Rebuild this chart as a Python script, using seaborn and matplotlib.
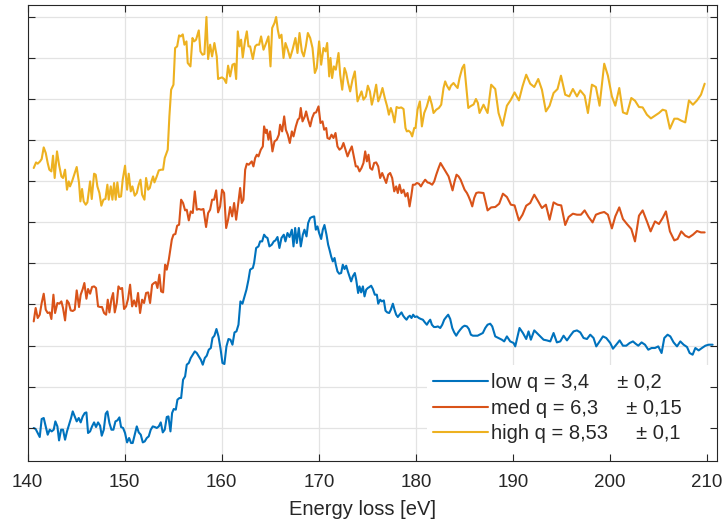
import matplotlib
matplotlib.use("Agg")
import matplotlib.pyplot as plt
from matplotlib.patches import Rectangle
import numpy as np
import pandas as pd
import seaborn as sns

# ---------------------------------------------------------------------------
# EELS spectra (arbitrary intensity units, curves vertically offset)
# ---------------------------------------------------------------------------
energy_low = [
    140.62, 140.82, 141.03, 141.24, 141.44, 141.65, 141.86, 142.06, 142.27, 142.47,
    142.68, 142.85, 143.06, 143.23, 143.44, 143.64, 143.85, 144.05, 144.26, 144.47,
    144.64, 144.85, 145.05, 145.26, 145.46, 145.67, 145.88, 146.05, 146.22, 146.43,
    146.63, 146.84, 147.04, 147.25, 147.46, 147.63, 147.84, 148.04, 148.21, 148.42,
    148.63, 148.83, 149.04, 149.24, 149.45, 149.62, 149.83, 150.03, 150.24, 150.45,
    150.65, 150.82, 151.03, 151.24, 151.44, 151.65, 151.86, 152.06, 152.27, 152.47,
    152.68, 152.89, 153.09, 153.30, 153.51, 153.71, 153.92, 154.12, 154.33, 154.50,
    154.71, 154.88, 155.05, 155.26, 155.43, 155.64, 155.81, 156.01, 156.22, 156.39,
    156.60, 156.80, 157.01, 157.22, 157.42, 157.63, 157.84, 158.04, 158.25, 158.45,
    158.66, 158.87, 159.04, 159.24, 159.45, 159.66, 159.86, 160.07, 160.27, 160.48,
    160.69, 160.89, 161.10, 161.31, 161.51, 161.72, 161.92, 162.13, 162.34, 162.54,
    162.75, 162.92, 163.02, 163.20, 163.33, 163.47, 163.54, 163.78, 163.95, 164.16,
    164.36, 164.54, 164.71, 164.91, 165.15, 165.36, 165.53, 165.74, 165.94, 166.15,
    166.39, 166.56, 166.77, 166.98, 167.22, 167.39, 167.56, 167.73, 167.94, 168.14,
    168.35, 168.52, 168.73, 168.90, 169.11, 169.31, 169.52, 169.69, 169.86, 170.03,
    170.24, 170.41, 170.58, 170.79, 170.96, 171.10, 171.27, 171.44, 171.62, 171.75,
    171.92, 172.10, 172.30, 172.47, 172.65, 172.82, 172.99, 173.16, 173.33, 173.50,
    173.71, 173.85, 174.05, 174.19, 174.36, 174.54, 174.71, 174.88, 175.05, 175.22,
    175.39, 175.57, 175.77, 175.98, 176.12, 176.32, 176.49, 176.70, 176.87, 177.05,
    177.25, 177.42, 177.63, 177.80, 177.97, 178.14, 178.32, 178.52, 178.69, 178.87,
    179.04, 179.21, 179.38, 179.55, 179.72, 179.90, 180.10, 180.31, 180.52, 180.72,
    180.93, 181.13, 181.34, 181.48, 181.65, 181.86, 182.06, 182.27, 182.51, 182.72,
    182.92, 183.13, 183.33, 183.54, 183.75, 183.95, 184.16, 184.36, 184.57, 184.81,
    185.02, 185.26, 185.46, 185.67, 185.88, 186.12, 186.36, 186.90, 187.15, 187.39,
    187.66, 187.87, 188.18, 188.52, 188.86, 189.10, 189.38, 189.72, 190.07, 190.24,
    190.68, 191.03, 191.37, 191.61, 191.85, 192.20, 192.47, 192.82, 193.16, 193.50,
    193.85, 194.19, 194.53, 194.88, 195.22, 195.57, 195.91, 196.25, 196.60, 196.94,
    197.28, 197.63, 197.97, 198.31, 198.59, 198.93, 199.28, 199.62, 200.03, 200.31,
    200.65, 201.00, 201.34, 201.68, 202.03, 202.37, 202.64, 202.92, 203.26, 203.61,
    203.95, 204.29, 204.64, 204.98, 205.32, 205.60, 205.94, 206.22, 206.56, 206.91,
    207.25, 207.59, 207.94, 208.21, 208.52, 208.80, 209.14, 209.48, 209.83, 210.17,
    210.58,
]
intensity_low = [
    32.7, 31.7, 27.7, 23.7, 41.7, 42.7, 34.3, 26.0, 31.0, 29.3,
    31.0, 39.3, 34.3, 20.3, 31.0, 31.0, 21.0, 29.3, 36.0, 42.7,
    49.3, 44.3, 39.3, 42.7, 38.3, 44.3, 47.7, 48.3, 27.7, 29.3,
    34.3, 38.3, 33.7, 38.3, 35.0, 25.0, 31.0, 47.0, 49.3, 37.7,
    31.0, 31.0, 39.3, 40.3, 43.3, 33.7, 32.7, 27.7, 18.3, 22.7,
    17.7, 17.7, 26.0, 34.3, 28.3, 26.0, 18.3, 19.3, 22.7, 24.3,
    31.0, 34.3, 33.7, 32.7, 34.3, 38.3, 28.3, 31.0, 43.7, 44.3,
    29.3, 47.7, 51.7, 51.0, 61.0, 62.7, 62.7, 81.0, 84.3, 96.0,
    97.7, 102.7, 106.0, 109.3, 107.7, 104.3, 101.0, 96.0, 102.7, 105.0,
    111.0, 112.7, 122.7, 125.0, 131.7, 124.3, 112.7, 97.7, 96.7, 114.3,
    121.7, 121.0, 116.0, 128.3, 129.3, 136.0, 159.3, 157.0, 164.3, 171.0,
    181.0, 191.0, 191.7, 192.7, 197.7, 207.7, 212.7, 214.3, 219.3, 219.3,
    226.0, 223.7, 222.7, 214.3, 216.0, 219.3, 220.3, 223.7, 212.7, 222.7,
    226.0, 219.3, 227.7, 223.7, 231.0, 214.3, 232.7, 217.7, 232.7, 214.3,
    226.0, 231.0, 224.3, 237.7, 242.7, 243.7, 244.3, 231.0, 234.3, 227.7,
    221.7, 231.0, 235.7, 226.0, 216.0, 211.0, 204.3, 199.3, 202.7, 196.0,
    189.3, 187.0, 187.7, 196.0, 191.7, 195.0, 189.3, 184.3, 179.3, 184.3,
    187.7, 181.0, 167.7, 174.3, 168.3, 174.3, 164.3, 171.0, 172.7, 173.7,
    175.0, 171.7, 166.0, 166.0, 157.0, 161.0, 159.3, 160.3, 150.0, 148.3,
    147.7, 151.0, 157.0, 151.0, 146.0, 143.7, 146.0, 148.3, 145.0, 142.7,
    141.0, 143.7, 145.0, 142.7, 146.0, 143.7, 144.3, 142.7, 141.7, 141.0,
    138.3, 136.0, 139.3, 141.0, 136.0, 133.7, 133.7, 134.3, 132.7, 136.0,
    141.0, 143.7, 146.0, 141.7, 132.7, 128.3, 125.0, 128.3, 131.0, 133.7,
    135.0, 134.3, 131.7, 126.0, 125.0, 125.0, 125.0, 127.7, 132.7, 136.0,
    137.0, 134.3, 124.3, 122.7, 121.0, 119.3, 124.3, 119.3, 117.7, 114.3,
    132.7, 127.7, 121.7, 129.3, 121.0, 130.3, 127.7, 124.3, 121.0, 120.3,
    119.3, 127.7, 118.3, 119.3, 125.0, 120.3, 125.0, 129.3, 130.3, 128.3,
    122.7, 121.7, 126.0, 122.7, 114.3, 119.3, 124.3, 122.7, 117.7, 112.0,
    116.0, 120.3, 115.0, 115.0, 117.7, 119.3, 117.0, 115.0, 118.3, 116.0,
    111.0, 112.7, 112.7, 114.3, 107.7, 122.7, 126.0, 124.3, 118.3, 114.3,
    119.3, 116.0, 113.7, 107.7, 106.0, 112.7, 110.3, 112.7, 115.0, 116.0,
    116.0,
]

energy_med = [
    140.62, 140.82, 141.03, 141.24, 141.44, 141.65, 141.86, 142.06, 142.27, 142.44,
    142.65, 142.82, 143.06, 143.26, 143.47, 143.64, 143.85, 144.05, 144.23, 144.43,
    144.64, 144.85, 145.05, 145.29, 145.46, 145.67, 145.84, 146.05, 146.22, 146.43,
    146.63, 146.84, 147.04, 147.25, 147.46, 147.66, 147.87, 148.08, 148.25, 148.42,
    148.63, 148.80, 148.97, 149.18, 149.35, 149.55, 149.73, 149.93, 150.14, 150.34,
    150.55, 150.76, 150.96, 151.17, 151.37, 151.58, 151.79, 151.99, 152.20, 152.41,
    152.61, 152.82, 153.02, 153.20, 153.37, 153.57, 153.75, 153.95, 154.16, 154.33,
    154.54, 154.85, 155.02, 155.22, 155.40, 155.60, 155.81, 156.01, 156.22, 156.39,
    156.60, 156.80, 157.01, 157.22, 157.42, 157.63, 157.87, 158.11, 158.38, 158.59,
    158.80, 159.00, 159.21, 159.42, 159.62, 159.83, 160.03, 160.24, 160.45, 160.65,
    160.86, 161.07, 161.27, 161.48, 161.68, 161.89, 162.06, 162.23, 162.41, 162.58,
    162.78, 163.09, 163.26, 163.44, 163.61, 163.78, 164.02, 164.23, 164.36, 164.54,
    164.64, 164.81, 164.98, 165.22, 165.43, 165.67, 165.88, 166.01, 166.22, 166.43,
    166.60, 166.80, 167.01, 167.22, 167.39, 167.63, 167.84, 168.01, 168.14, 168.32,
    168.56, 168.69, 168.90, 169.11, 169.31, 169.52, 169.72, 169.97, 170.17, 170.38,
    170.55, 170.76, 170.89, 171.10, 171.31, 171.51, 171.72, 171.92, 172.13, 172.34,
    172.54, 172.75, 172.96, 173.16, 173.40, 173.61, 173.81, 173.99, 174.19, 174.40,
    174.60, 174.78, 174.95, 175.12, 175.29, 175.50, 175.70, 175.91, 176.12, 176.32,
    176.53, 176.74, 176.94, 177.15, 177.35, 177.56, 177.77, 177.97, 178.14, 178.32,
    178.52, 178.73, 178.93, 179.14, 179.35, 179.52, 179.69, 179.90, 180.10, 180.31,
    180.52, 180.72, 180.96, 181.20, 181.41, 181.68, 181.89, 182.10, 182.34, 182.54,
    182.75, 182.96, 183.16, 183.37, 183.57, 183.78, 183.99, 184.19, 184.40, 184.61,
    184.81, 185.02, 185.26, 185.43, 185.64, 185.81, 186.01, 186.22, 186.46, 186.97,
    187.39, 187.76, 188.18, 188.59, 188.97, 189.38, 189.79, 190.17, 190.62, 190.99,
    191.37, 191.78, 192.20, 192.61, 192.99, 193.40, 193.78, 194.19, 194.60, 194.98,
    195.39, 195.74, 196.18, 196.60, 197.01, 197.39, 197.80, 198.21, 198.55, 199.00,
    199.41, 199.79, 200.20, 200.55, 200.96, 201.34, 201.75, 202.20, 202.58, 202.99,
    203.37, 203.81, 204.19, 204.64, 205.05, 205.43, 205.77, 206.18, 206.63, 206.97,
    207.35, 207.76, 208.14, 208.55, 208.97, 209.38, 209.76,
]
intensity_med = [
    139.3, 152.7, 142.7, 146.0, 157.7, 167.0, 151.0, 147.7, 148.3, 141.7,
    166.0, 147.7, 157.7, 157.0, 159.3, 152.7, 140.3, 160.3, 157.7, 150.3,
    149.7, 151.0, 170.3, 153.7, 166.0, 171.7, 177.7, 162.0, 171.7, 167.0,
    173.7, 174.3, 172.7, 154.3, 153.7, 153.7, 147.7, 146.0, 161.0, 148.3,
    161.7, 167.7, 148.3, 157.7, 174.3, 171.7, 172.7, 151.7, 154.3, 161.7,
    176.0, 154.3, 160.3, 154.3, 167.7, 147.7, 161.0, 157.7, 167.7, 168.3,
    157.7, 176.0, 177.7, 178.7, 172.7, 186.0, 169.3, 168.3, 196.0, 191.0,
    201.0, 221.0, 226.0, 226.7, 235.0, 236.0, 261.0, 257.7, 250.3, 251.0,
    240.3, 249.3, 247.7, 269.3, 251.0, 251.7, 251.0, 251.7, 233.7, 247.7,
    251.0, 261.0, 261.0, 270.3, 248.3, 254.3, 271.0, 267.7, 232.7, 241.0,
    253.7, 244.3, 257.7, 241.0, 256.0, 272.7, 257.7, 261.0, 291.0, 297.0,
    296.0, 299.3, 294.3, 302.7, 306.0, 304.3, 311.0, 314.3, 334.3, 327.7,
    331.0, 321.0, 329.3, 309.3, 319.3, 321.0, 326.0, 336.0, 329.3, 344.3,
    331.0, 326.0, 317.7, 329.3, 324.3, 334.3, 341.0, 342.7, 352.7, 339.3,
    344.3, 349.3, 341.0, 334.3, 342.7, 347.7, 348.3, 354.3, 337.7, 339.3,
    331.0, 332.7, 322.7, 321.7, 326.0, 322.7, 327.7, 314.3, 311.0, 312.7,
    317.7, 311.0, 304.3, 309.3, 314.3, 304.3, 294.3, 294.3, 289.3, 292.7,
    297.7, 309.3, 299.3, 306.0, 292.7, 291.0, 297.7, 298.3, 294.3, 282.7,
    287.7, 282.7, 277.7, 286.0, 287.7, 282.7, 269.3, 274.3, 267.7, 276.0,
    267.7, 271.0, 264.3, 267.7, 254.3, 264.3, 276.0, 276.0, 277.7, 277.0,
    274.3, 277.7, 281.0, 278.3, 277.7, 276.0, 279.3, 286.0, 292.7, 297.7,
    294.3, 291.0, 287.7, 284.3, 277.7, 270.3, 279.3, 286.0, 284.3, 281.0,
    276.0, 271.0, 267.7, 264.3, 259.3, 254.3, 262.7, 267.7, 268.3, 267.7,
    250.3, 253.3, 253.7, 257.0, 267.0, 263.7, 256.0, 255.3, 240.3, 246.0,
    255.0, 257.7, 266.0, 259.3, 252.7, 256.0, 241.0, 258.3, 256.0, 255.3,
    235.7, 243.7, 247.0, 246.0, 246.0, 250.3, 243.7, 238.3, 246.0, 247.7,
    248.7, 246.0, 232.3, 244.3, 253.3, 241.7, 236.7, 231.7, 219.3, 245.0,
    250.3, 239.3, 229.3, 239.3, 236.7, 242.7, 249.3, 229.3, 220.3, 221.7,
    229.3, 225.0, 223.3, 226.0, 229.7, 228.3, 228.3,
]

energy_high = [
    140.62, 140.86, 141.03, 141.27, 141.44, 141.65, 141.86, 142.06, 142.23, 142.44,
    142.61, 142.78, 143.02, 143.23, 143.47, 143.64, 143.85, 144.05, 144.23, 144.36,
    144.57, 144.85, 145.05, 145.29, 145.43, 145.60, 145.77, 145.98, 146.15, 146.43,
    146.60, 146.84, 147.01, 147.18, 147.39, 147.59, 147.80, 148.01, 148.21, 148.35,
    148.56, 148.73, 148.90, 149.07, 149.24, 149.42, 149.62, 149.79, 150.03, 150.24,
    150.41, 150.62, 150.79, 151.03, 151.24, 151.44, 151.62, 151.79, 152.03, 152.20,
    152.41, 152.58, 152.75, 152.92, 153.06, 153.30, 153.51, 153.75, 153.95, 154.12,
    154.43, 154.60, 154.78, 155.02, 155.19, 155.40, 155.60, 155.77, 155.98, 156.15,
    156.36, 156.49, 156.77, 156.98, 157.15, 157.35, 157.63, 157.80, 158.01, 158.21,
    158.42, 158.59, 158.80, 159.00, 159.24, 159.48, 159.62, 159.83, 160.03, 160.24,
    160.45, 160.65, 160.86, 161.10, 161.31, 161.48, 161.65, 161.82, 161.99, 162.16,
    162.41, 162.58, 162.75, 162.92, 163.20, 163.44, 163.61, 163.85, 164.05, 164.30,
    164.57, 164.81, 165.02, 165.19, 165.43, 165.60, 165.77, 165.94, 166.15, 166.36,
    166.56, 166.80, 167.04, 167.29, 167.59, 167.80, 168.01, 168.25, 168.45, 168.66,
    168.87, 169.11, 169.35, 169.59, 169.79, 170.03, 170.24, 170.48, 170.69, 170.86,
    171.07, 171.20, 171.37, 171.55, 171.75, 172.03, 172.20, 172.41, 172.65, 172.82,
    173.02, 173.23, 173.47, 173.71, 173.99, 174.19, 174.40, 174.60, 174.85, 175.05,
    175.26, 175.46, 175.67, 175.91, 176.12, 176.32, 176.56, 176.80, 177.04, 177.22,
    177.42, 177.59, 177.80, 178.01, 178.25, 178.49, 178.73, 178.93, 179.07, 179.24,
    179.45, 179.62, 179.83, 179.97, 180.17, 180.41, 180.62, 180.86, 181.13, 181.41,
    181.65, 181.82, 182.10, 182.37, 182.61, 182.85, 183.02, 183.20, 183.44, 183.61,
    183.88, 184.09, 184.30, 184.50, 184.78, 184.98, 185.19, 185.40, 185.60, 185.95,
    186.19, 186.39, 186.56, 186.97, 187.39, 187.76, 188.18, 188.52, 188.93, 189.38,
    189.79, 190.17, 190.62, 190.99, 191.37, 191.78, 192.20, 192.61, 192.99, 193.40,
    193.78, 194.19, 194.60, 194.95, 195.39, 195.81, 196.18, 196.60, 196.94, 197.39,
    197.73, 198.14, 198.55, 198.93, 199.41, 199.79, 200.20, 200.55, 200.96, 201.34,
    201.75, 202.20, 202.58, 202.99, 203.37, 203.81, 204.22, 204.64, 205.05, 205.43,
    205.77, 206.18, 206.63, 206.97, 207.35, 207.76, 208.14, 208.55, 208.97, 209.38,
    209.76,
]
intensity_high = [
    292.7, 298.3, 297.0, 299.3, 301.7, 313.3, 307.7, 297.7, 291.0, 289.3,
    305.0, 282.7, 309.3, 296.0, 284.3, 282.7, 291.0, 271.0, 279.3, 274.3,
    279.3, 287.7, 293.7, 277.7, 259.3, 271.7, 259.3, 256.0, 258.3, 279.3,
    261.7, 287.0, 286.0, 274.3, 267.7, 255.0, 261.0, 261.7, 276.0, 261.0,
    274.3, 261.0, 277.7, 261.0, 278.3, 263.7, 264.3, 281.0, 295.0, 271.0,
    287.0, 269.3, 274.3, 265.0, 267.7, 276.0, 281.0, 266.0, 261.0, 282.7,
    271.0, 272.7, 279.3, 284.3, 278.3, 284.3, 290.3, 291.0, 291.0, 302.7,
    311.0, 344.3, 371.0, 376.0, 412.7, 414.3, 425.3, 424.3, 426.3, 416.0,
    419.3, 397.7, 394.3, 422.7, 419.3, 421.0, 430.3, 409.3, 406.0, 406.7,
    443.7, 401.7, 416.0, 404.3, 417.7, 404.3, 381.7, 382.7, 383.3, 381.7,
    377.7, 395.0, 384.3, 396.0, 397.0, 381.7, 429.3, 414.3, 421.0, 403.3,
    421.0, 429.3, 414.3, 414.3, 401.7, 414.3, 416.0, 416.0, 424.3, 411.0,
    417.7, 424.3, 394.3, 432.7, 437.7, 443.7, 431.0, 422.7, 426.0, 402.7,
    417.7, 411.0, 402.7, 411.0, 422.7, 407.7, 427.7, 409.3, 404.3, 414.3,
    427.7, 422.7, 412.7, 387.7, 392.7, 419.3, 396.0, 412.7, 409.3, 417.7,
    384.3, 402.7, 382.7, 394.3, 391.0, 407.7, 386.0, 371.0, 392.7, 387.7,
    377.7, 369.3, 381.0, 389.3, 359.3, 364.3, 369.3, 361.0, 364.3, 375.0,
    369.3, 356.0, 364.3, 376.0, 359.3, 364.3, 372.7, 362.7, 354.3, 346.0,
    352.7, 347.7, 338.3, 353.7, 352.7, 353.3, 351.7, 332.7, 329.3, 330.0,
    328.3, 324.3, 332.7, 332.7, 351.0, 359.3, 334.3, 347.7, 354.3, 364.3,
    356.0, 347.7, 351.0, 352.7, 356.0, 372.7, 379.3, 375.0, 371.0, 375.0,
    377.7, 375.0, 372.7, 382.7, 392.7, 396.0, 374.3, 352.7, 354.3, 356.3,
    361.7, 357.7, 347.7, 356.0, 347.7, 376.0, 371.7, 347.7, 335.0, 355.0,
    361.0, 368.3, 360.3, 374.3, 386.0, 377.0, 373.7, 381.7, 371.0, 349.3,
    355.0, 367.7, 371.7, 385.0, 366.0, 364.3, 371.7, 364.3, 370.3, 365.0,
    347.7, 376.0, 373.7, 355.0, 397.0, 385.0, 364.3, 355.0, 372.7, 348.3,
    346.7, 362.7, 360.0, 353.7, 353.3, 346.0, 342.3, 345.0, 347.7, 351.0,
    350.0, 332.0, 342.0, 342.0, 340.0, 338.3, 360.3, 356.0, 360.3, 366.0,
    377.0,
]

series_labels = [
    "low q = 3,4     \u00b1 0,2",
    "med q = 6,3     \u00b1 0,15",
    "high q = 8,53     \u00b1 0,1",
]
series_colors = ["#0072BD", "#D95319", "#EDB120"]

x_ticks = [140, 150, 160, 170, 180, 190, 200, 210]
y_ticks = [33 + 41.07 * k for k in range(11)]
x_label = "Energy loss [eV]"

# ---------------------------------------------------------------------------
# Long-form table for seaborn
# ---------------------------------------------------------------------------
frames = []
for e, i, lab in zip([energy_low, energy_med, energy_high],
                     [intensity_low, intensity_med, intensity_high],
                     series_labels):
    frames.append(pd.DataFrame({"energy": e, "intensity": i, "series": lab}))
spectra = pd.concat(frames, ignore_index=True)

sns.set_theme(style="white")
plt.rcParams["font.family"] = ["Liberation Sans", "DejaVu Sans"]

ink = "#262626"
grid_col = "#e3e3e3"

fig = plt.figure(figsize=(7.22, 5.23), dpi=100)
ax = fig.add_axes([27.7 / 722, (523 - 460.7) / 523, 689 / 722, 456 / 523])

sns.lineplot(data=spectra, x="energy", y="intensity", hue="series",
             hue_order=series_labels, palette=series_colors,
             estimator=None, sort=False, linewidth=1.5, ax=ax, zorder=2,
             legend=True)

ax.set_xlim(140, 211)
ax.set_ylim(0, 456)
ax.set_xticks(x_ticks)
ax.set_yticks(y_ticks)
ax.set_yticklabels([])

# light grid behind the curves
for t in x_ticks:
    ax.axvline(t, color=grid_col, lw=0.9, zorder=0.5)
for t in y_ticks:
    ax.axhline(t, color=grid_col, lw=0.9, zorder=0.5)
ax.set_axisbelow(False)

ax.tick_params(axis="both", which="both", direction="in", length=5,
               width=0.8, color=ink, top=True, right=True, bottom=True,
               left=True, labelsize=13.5, labelcolor=ink, pad=9.5)
ax.tick_params(axis="y", labelleft=False)
for s in ax.spines.values():
    s.set_visible(True)
    s.set_color(ink)
    s.set_linewidth(0.8)

ax.set_xlabel(x_label, fontsize=14.5, color=ink)
ax.set_ylabel("")
ax.xaxis.set_label_coords(0.486, -0.086)
ax.xaxis.label.set_va("top")

# legend panel: white backing that hides the grid but not the ticks
ax.add_patch(Rectangle(((427 - 27.7) / 689, 0), 1 - (427 - 27.7) / 689,
                       (460.7 - 365) / 456, transform=ax.transAxes,
                       facecolor="white", edgecolor="none", zorder=1))
handles, labels = ax.get_legend_handles_labels()
ax.legend(handles, labels, loc="upper left",
          bbox_to_anchor=((432.7 - 27.7) / 689, (460.7 - 373) / 456),
          frameon=False, fontsize=14.5, handlelength=2.76,
          handletextpad=0.12, labelspacing=0.33, borderpad=0,
          borderaxespad=0, labelcolor=ink)

fig.savefig("out.png", dpi=100, facecolor="white")
